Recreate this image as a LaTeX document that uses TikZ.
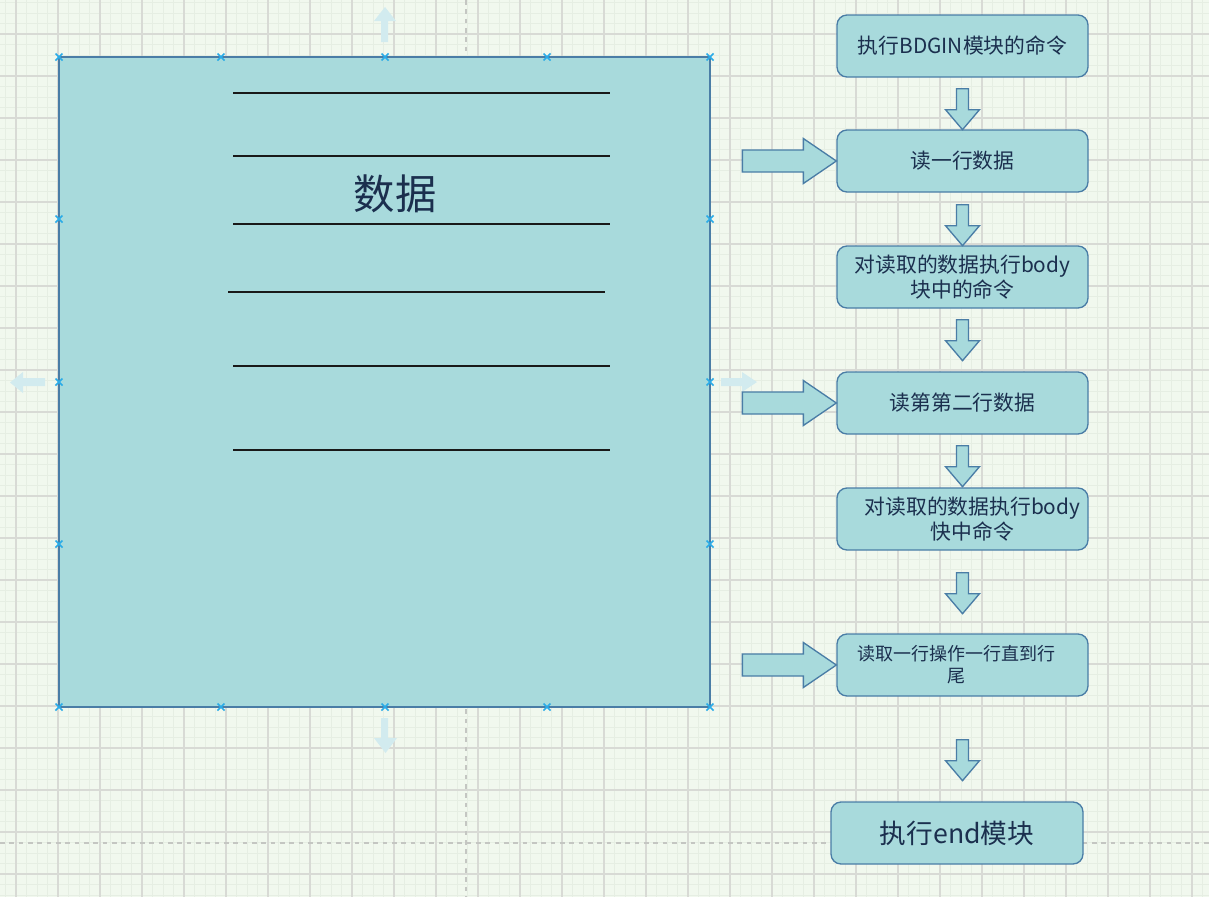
\documentclass[tikz,border=0pt]{standalone}
\usepackage{fontspec}
\setmainfont{Noto Sans CJK SC}
\usetikzlibrary{calc}
\definecolor{bg}{HTML}{F1F8EE}
\definecolor{minorc}{HTML}{E6EEE3}
\definecolor{majorc}{HTML}{D8DAD5}
\definecolor{pagec}{HTML}{C4C6C2}
\definecolor{boxfill}{HTML}{A8DADC}
\definecolor{boxline}{HTML}{4A7DA6}
\definecolor{txt}{HTML}{1B2F4E}
\definecolor{handlec}{HTML}{29ABE8}
\definecolor{hintc}{HTML}{D2EBEF}

\begin{document}
\begin{tikzpicture}[x=0.75pt,y=-0.75pt,
  flowbox/.style={draw=boxline,fill=boxfill,line width=1pt,rounded corners=7.5pt,minimum width=188.25pt,minimum height=46.5pt,text=txt,align=center,font=\fontsize{15.6}{19}\selectfont},
  blockarrow/.style={draw=boxline,fill=boxfill,line width=1pt,line join=miter},
  hint/.style={fill=hintc},
  handle/.style={draw=handlec,line width=1.1pt}]
\useasboundingbox (0,0) rectangle (1209,897);
% canvas grid
\fill[bg] (0,0) rectangle (1209,897);
\foreach \i in {0,...,114} \draw[minorc,line width=0.7pt] (5.5+10.5*\i,0) -- ++(0,897);
\foreach \i in {0,...,85} \draw[minorc,line width=0.7pt] (0,2.8+10.5*\i) -- ++(1209,0);
\foreach \i in {0,...,28} \draw[majorc,line width=1.3pt] (16+42*\i,0) -- ++(0,897);
\foreach \i in {0,...,20} \draw[majorc,line width=1.3pt] (0,34.3+42*\i) -- ++(1209,0);
\draw[pagec,line width=1pt,dash pattern=on 3.5pt off 3.5pt] (466,0) -- (466,897) (0,843) -- (1209,843);
% data block
\node[draw=boxline,fill=boxfill,line width=1pt,minimum width=488.25pt,minimum height=487.5pt,inner sep=0pt] (datablk) at (384.5,382) {};
\foreach \y in {93,156,224,366,450} \draw[black!90,line width=1.6pt] (233,\y) -- (610,\y);
\draw[black!90,line width=1.6pt] (228,292) -- (605,292);
\node[text=txt,font=\fontsize{31}{36}\selectfont] (datalbl) at (395,194) {数据};
% selection handles and hover hints
\foreach \x/\y in {59/57,221/57,385/57,547/57,710/57,59/707,221/707,385/707,547/707,710/707,59/219,59/382,59/544,710/219,710/382,710/544}
  \draw[handle] (\x-3.5,\y-3.5) -- (\x+3.5,\y+3.5) (\x-3.5,\y+3.5) -- (\x+3.5,\y-3.5);
\fill[hint] (381,42) -- (388,42) -- (388,21) -- (396,21) -- (385,7) -- (374,21) -- (381,21) -- cycle;
\fill[hint] (381,718) -- (388,718) -- (388,738) -- (397,738) -- (385.5,753) -- (374,738) -- (381,738) -- cycle;
\fill[hint] (721,378) -- (742,378) -- (742,372) -- (757,382) -- (742,392) -- (742,386) -- (721,386) -- cycle;
\fill[hint] (45,378) -- (23,378) -- (23,372) -- (10,382.5) -- (23,393) -- (23,386) -- (45,386) -- cycle;
% flow
\node[flowbox] (begin) at (962.5,46) {执行BDGIN模块的命令};
\node[flowbox] (read1) at (962.5,161) {读一行数据};
\node[flowbox] (body1) at (962.5,277) {对读取的数据执行body\\块中的命令};
\node[flowbox] (read2) at (962.5,403) {读第第二行数据};
\node[flowbox] (body2) at (962.5,519) {\hspace*{15pt}对读取的数据执行body\\\hspace*{15pt}快中命令};
\node[flowbox,font=\fontsize{13.5}{16.5}\selectfont] (readall) at (962.5,665) {\hspace*{-9pt}读取一行操作一行直到行\\\hspace*{-9pt}尾};
\node[flowbox,minimum width=189pt,font=\fontsize{20}{24}\selectfont] (endblk) at (957,833) {执行end模块};
\foreach \n/\d in {begin/11,read1/12,body1/11,read2/11,body2/22,readall/43}
  \draw[blockarrow,shift={($(\n.south)+(0,\d)$)}] (-6,0) -- (6,0) -- (6,21) -- (17,21) -- (0,41) -- (-17,21) -- (-6,21) -- cycle;
\foreach \n in {read1,read2,readall}
  \draw[blockarrow] (\n.west) -- ++(-33,-22.5) -- ++(0,11.5) -- ++(-61,0) -- ++(0,22) -- ++(61,0) -- ++(0,11.5) -- cycle;
\end{tikzpicture}
\end{document}
